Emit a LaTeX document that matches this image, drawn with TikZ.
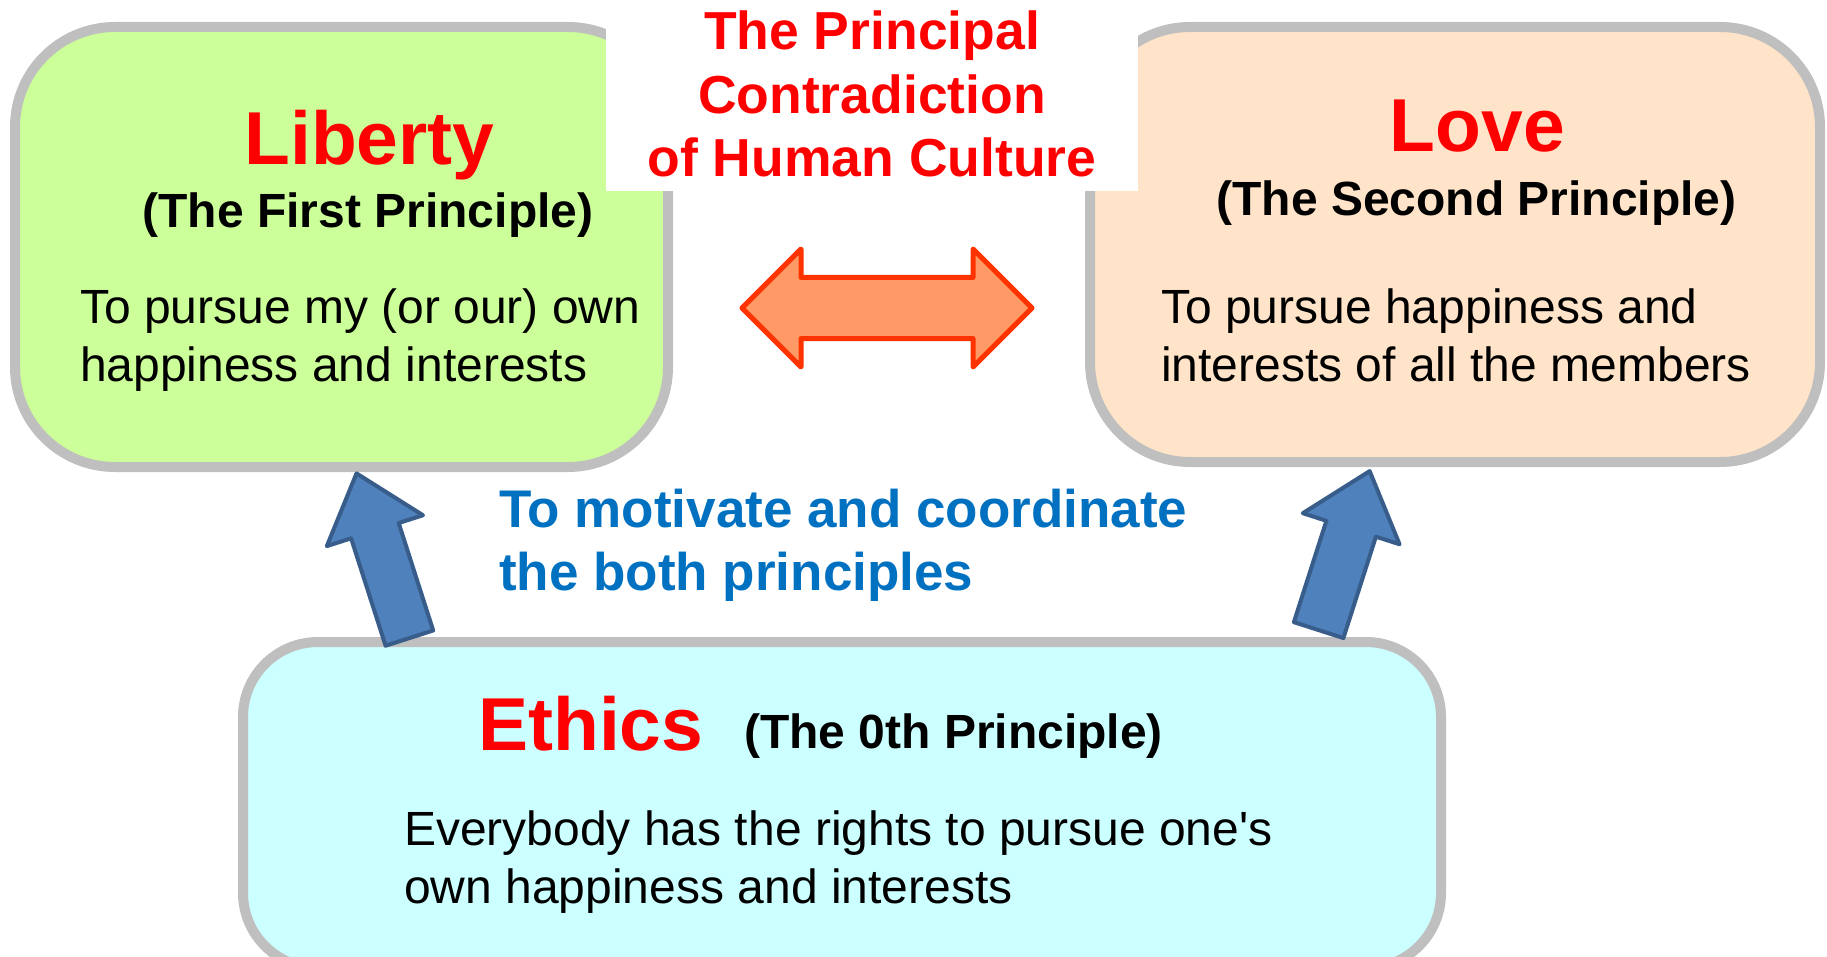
\documentclass[tikz,border=0pt]{standalone}
\usepackage{fontspec}
\setmainfont{Liberation Sans}
\usetikzlibrary{shapes.arrows}

\definecolor{libgreen}{HTML}{CCFF99}
\definecolor{lovepeach}{HTML}{FFE4C9}
\definecolor{ethcyan}{HTML}{CCFFFF}
\definecolor{rimgray}{HTML}{BFBFBF}
\definecolor{clashfill}{HTML}{FF9966}
\definecolor{clashline}{HTML}{FF3300}
\definecolor{upfill}{HTML}{4F81BD}
\definecolor{upline}{HTML}{385D8A}
\definecolor{noteblue}{HTML}{0070C0}

\newcommand\fsz[2]{\fontsize{#1}{#2}\selectfont}

\begin{document}
\begin{tikzpicture}[x=1pt, y=-1pt,
    box/.style={draw=rimgray, line width=10pt, rounded corners=#1, inner sep=0pt},
    box/.default=100pt,
    head/.style={text=red, inner sep=0pt, anchor=base, font=\bfseries\fsz{75}{80}},
    sub/.style={inner sep=0pt, anchor=base, font=\bfseries\fsz{48}{55}},
    body/.style={inner sep=0pt, anchor=base west, align=left, font=\fsz{48}{58}},
    uparrow/.style={single arrow, draw=upline, fill=upfill, line width=4pt,
      line join=round, inner xsep=0pt, single arrow tip angle=80, anchor=tail}]

    \useasboundingbox (0,0) rectangle (1827,957);

    % The two principles
    \node[box, fill=libgreen, minimum width=653pt, minimum height=440pt] (liberty) at (341.5,247) {};
    \node[box, fill=lovepeach, minimum width=730pt, minimum height=435pt] (love) at (1455,244.5) {};

    % Title on its white patch (base = last line)
    \node[fill=white, inner sep=0pt, minimum width=532pt, minimum height=191pt] (titlebg) at (872,95.5) {};
    \node[text=red, inner sep=0pt, anchor=base, align=center, font=\bfseries\fsz{53.5}{63.5}] (title) at (872,177)
        {The Principal\\Contradiction\\of Human Culture};

    \node[head] (libname) at (369.5,165) {Liberty};
    \node[sub] (libsub) at (368,228) {(The First Principle)};
    \node[body] (libtext) at (80,381) {To pursue my (or our) own\\happiness and interests};

    \node[head] (lovename) at (1477.5,152) {Love};
    \node[sub] (lovesub) at (1476.5,216) {(The Second Principle)};
    \node[body] (lovetext) at (1161,381) {To pursue happiness and\\interests of all the members};

    % Contradiction arrow
    \node[double arrow, draw=clashline, fill=clashfill, line width=5pt, line join=round,
        minimum height=290pt, inner xsep=0pt, inner ysep=28pt,
        double arrow head extend=28.5pt, double arrow tip angle=90] (clash) at (887,308) {};

    % Ethics
    \node[box=75pt, fill=ethcyan, minimum width=1198pt, minimum height=326pt] (ethics) at (842,805) {};
    \node[head, anchor=base west] (ethname) at (478,750) {Ethics};
    \node[sub, anchor=base west] (ethsub) at (744,748) {(The 0th Principle)};
    \node[body] (ethtext) at (404,903) {Everybody has the rights to pursue one\textquotesingle s\\own happiness and interests};

    % Motivation note
    \node[text=noteblue, inner sep=0pt, anchor=base west, align=left, font=\bfseries\fsz{53}{63}] (note) at (499,590)
        {To motivate and coordinate\\the both principles};

    % Upward arrows
    \node[uparrow, minimum height=173pt, inner ysep=23pt, single arrow head extend=25.5pt, rotate=107.8] (upleft) at (410,640) {};
    \node[uparrow, minimum height=167pt, inner ysep=24pt, single arrow head extend=24.8pt, rotate=72.2] (upright) at (1318,632) {};
\end{tikzpicture}
\end{document}
